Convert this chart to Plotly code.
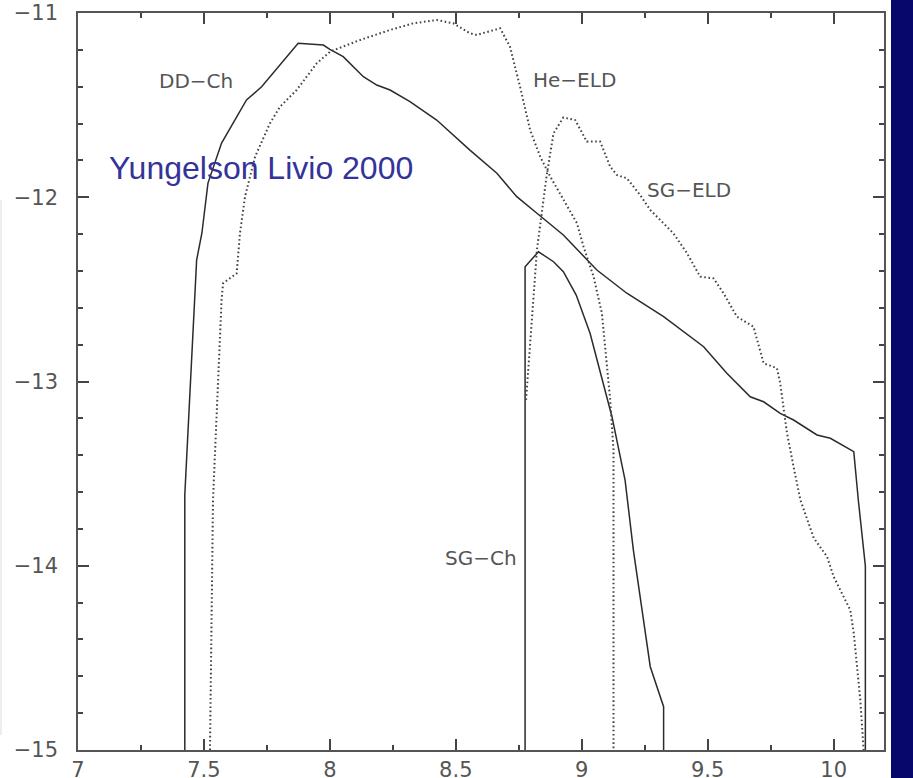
import plotly.graph_objects as go

# ---- data ----
dd_ch_x = [7.424, 7.424, 7.471, 7.492, 7.516, 7.570, 7.669, 7.729, 7.874, 7.974, 8.000, 8.053, 8.133,
           8.186, 8.239, 8.318, 8.424, 8.556, 8.663, 8.742, 8.822, 8.927, 9.060, 9.179, 9.325, 9.484,
           9.576, 9.669, 9.722, 9.788, 9.841, 9.934, 9.987, 10.080, 10.098, 10.126, 10.126]
dd_ch_y = [-15.0, -13.616, -12.341, -12.194, -11.923, -11.706, -11.472, -11.400, -11.164, -11.174,
           -11.197, -11.237, -11.346, -11.391, -11.418, -11.481, -11.581, -11.744, -11.870, -11.997,
           -12.087, -12.205, -12.395, -12.521, -12.648, -12.811, -12.955, -13.083, -13.110, -13.173,
           -13.209, -13.290, -13.308, -13.381, -13.643, -14.001, -15.0]

sg_ch_x = [8.775, 8.775, 8.828, 8.888, 8.927, 8.978, 9.033, 9.120, 9.172, 9.205, 9.272, 9.325, 9.325]
sg_ch_y = [-15.0, -12.377, -12.296, -12.350, -12.404, -12.531, -12.738, -13.191, -13.535, -13.915,
           -14.548, -14.765, -15.0]

he_eld_x = [7.524, 7.536, 7.570, 7.576, 7.630, 7.643, 7.663, 7.683, 7.703, 7.762, 7.802, 7.868, 7.948,
            7.994, 8.000, 8.119, 8.239, 8.331, 8.424, 8.490, 8.556, 8.583, 8.676, 8.715, 8.755, 8.795,
            8.835, 8.875, 8.927, 8.981, 9.007, 9.047, 9.080, 9.100, 9.113, 9.126, 9.126]
he_eld_y = [-15.0, -13.643, -12.558, -12.467, -12.413, -12.196, -11.997, -11.888, -11.780, -11.599,
            -11.509, -11.418, -11.273, -11.219, -11.210, -11.147, -11.092, -11.056, -11.038, -11.056,
            -11.110, -11.119, -11.083, -11.183, -11.400, -11.635, -11.780, -11.888, -12.015, -12.141,
            -12.268, -12.431, -12.630, -12.901, -13.100, -13.372, -15.0]

sg_eld_x = [8.779, 8.822, 8.861, 8.888, 8.927, 8.974, 9.020, 9.073, 9.113, 9.139, 9.179, 9.232, 9.272,
            9.364, 9.418, 9.470, 9.523, 9.563, 9.616, 9.682, 9.722, 9.775, 9.788, 9.815, 9.841, 9.868,
            9.921, 9.974, 10.000, 10.066, 10.080, 10.106, 10.119]
sg_eld_y = [-13.100, -12.286, -11.879, -11.653, -11.567, -11.581, -11.698, -11.698, -11.834, -11.879,
            -11.897, -11.988, -12.069, -12.196, -12.304, -12.431, -12.440, -12.521, -12.648, -12.703,
            -12.901, -12.928, -13.010, -13.281, -13.462, -13.643, -13.849, -13.951, -14.059, -14.240,
            -14.367, -14.729, -15.0]

x_tick_vals = [7, 7.5, 8, 8.5, 9, 9.5, 10]
x_tick_text = ["7", "7.5", "8", "8.5", "9", "9.5", "10"]
y_tick_vals = [-15, -14, -13, -12, -11]
y_tick_text = ["\u221215", "\u221214", "\u221213", "\u221212", "\u221211"]

labels = ["DD\u2212Ch", "He\u2212ELD", "SG\u2212ELD", "SG\u2212Ch"]
label_x = [7.470, 8.972, 9.427, 8.598]
label_y = [-11.369, -11.364, -11.961, -13.958]

# ---- figure ----
W, H = 913, 778
ML, MR, MT, MB = 78, 29, 13, 28
pw, ph = W - ML - MR, H - MT - MB

fig = go.Figure()
solid = dict(color="#2b2b2b", width=1.5)
dotted = dict(color="#444444", width=2, dash="1.6px,2.6px")

fig.add_trace(go.Scatter(x=dd_ch_x, y=dd_ch_y, mode="lines", line=solid, showlegend=False))
fig.add_trace(go.Scatter(x=sg_ch_x, y=sg_ch_y, mode="lines", line=solid, showlegend=False))
fig.add_trace(go.Scatter(x=he_eld_x, y=he_eld_y, mode="lines", line=dotted, showlegend=False))
fig.add_trace(go.Scatter(x=sg_eld_x, y=sg_eld_y, mode="lines", line=dotted, showlegend=False))

for t, xx, yy in zip(labels, label_x, label_y):
    fig.add_annotation(x=xx, y=yy, text=t, showarrow=False, xanchor="center", yanchor="middle",
                       font=dict(family="DejaVu Sans", size=20, color="#555555"))

fig.add_annotation(x=(260.5 - ML) / pw, y=1 - (168 - MT) / ph, xref="paper", yref="paper",
                   text="Yungelson Livio 2000", showarrow=False, xanchor="center", yanchor="middle",
                   font=dict(family="Liberation Sans, Arial", size=32, color="#333399"))

# navy bar on the right
fig.add_shape(type="rect", xref="paper", yref="paper",
              x0=(891 - ML) / pw, x1=(W + 10 - ML) / pw, y0=-0.1, y1=1.1,
              fillcolor="#06066b", line=dict(width=0), layer="above")
# faint edge line on the far left
fig.add_shape(type="line", xref="paper", yref="paper",
              x0=(1 - ML) / pw, x1=(1 - ML) / pw, y0=1 - (200 - MT) / ph, y1=1 - (735 - MT) / ph,
              line=dict(color="#dddddd", width=1))

axis_common = dict(showgrid=False, zeroline=False, showline=True, linecolor="#555555", linewidth=1.5,
                   mirror="ticks", ticks="inside", tickcolor="#444444", tickwidth=1.5, ticklen=11,
                   tickfont=dict(family="DejaVu Sans", size=21, color="#555555"))

fig.update_xaxes(range=[7, 10.2], tickmode="array", tickvals=x_tick_vals, ticktext=x_tick_text,
                 minor=dict(dtick=0.25, tick0=7, ticks="inside", ticklen=5, tickwidth=1.5, tickcolor="#444444"),
                 ticklabelstandoff=0, **axis_common)
fig.update_yaxes(range=[-15, -11], tickmode="array", tickvals=y_tick_vals, ticktext=y_tick_text,
                 minor=dict(dtick=0.2, tick0=-15, ticks="inside", ticklen=5, tickwidth=1.5, tickcolor="#444444"),
                 ticklabelstandoff=14, **axis_common)

fig.update_layout(width=W, height=H, margin=dict(l=ML, r=MR, t=MT, b=MB, autoexpand=False),
                  plot_bgcolor="white", paper_bgcolor="white")

fig.write_html("out.html")
